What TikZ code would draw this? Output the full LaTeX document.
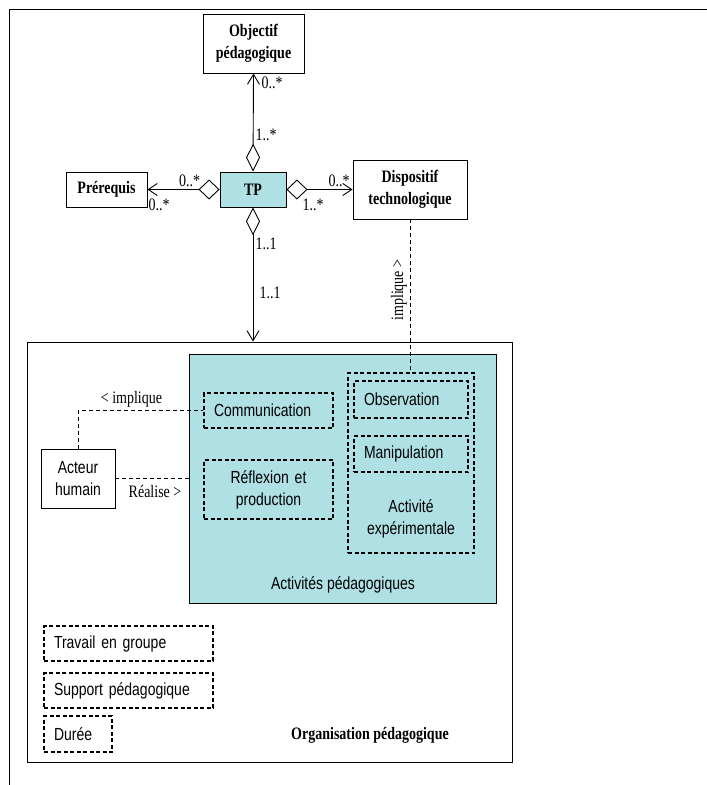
\documentclass[tikz,border=0pt]{standalone}
\usepackage{fontspec}
\setmainfont{Liberation Serif}[FakeStretch=0.8]
\setsansfont{Liberation Sans}[FakeStretch=0.8]
\definecolor{tpcyan}{RGB}{174,224,228}
\usetikzlibrary{arrows.meta}

\begin{document}
\begin{tikzpicture}[x=1pt, y=-1pt, line width=0.9pt,
  font=\fontsize{17.5}{22}\selectfont,
  classbox/.style={draw, inner sep=0pt, align=center, font=\bfseries\fontsize{17.5}{22}\selectfont},
  actbox/.style={draw, line width=1.3pt, dash pattern=on 4pt off 2.5pt, inner ysep=0pt, inner xsep=10pt, font=\sffamily\fontsize{17.5}{22}\selectfont},
  plainbox/.style={draw, inner sep=0pt, align=center, font=\sffamily\fontsize{17.5}{22}\selectfont},
  lbl/.style={inner sep=0pt},
  aggv/.style={arrows={{Diamond[open,length=28pt,width=14pt]}-{Straight Barb[length=10pt,width=12pt]}}},
  aggh/.style={arrows={{Diamond[open,length=21pt,width=20pt]}-{Straight Barb[length=9pt,width=12pt]}}},
  dashline/.style={line width=0.8pt, dash pattern=on 4pt off 3pt}]
  \useasboundingbox (0,0) rectangle (707,785);
  \draw (9,785) -- (9,9) -- (707,9);

  % classes
  \node[classbox, minimum width=101, minimum height=59] (objectif) at (253.5,43.5) {Objectif\\pédagogique};
  \node[classbox, minimum width=81, minimum height=35] (prereq) at (106.5,189.5) {Prérequis};
  \node[classbox, fill=tpcyan, minimum width=66, minimum height=35] (tp) at (253,189.5) {TP};
  \node[classbox, minimum width=114, minimum height=59] (disp) at (410,189.5) {Dispositif\\technologique};

  % organisation
  \node[draw, minimum width=485, minimum height=420] (org) at (269.5,552) {};
  \node[font=\bfseries\fontsize{17.5}{22}\selectfont] (orglbl) at (370,735) {Organisation pédagogique};
  \node[draw, fill=tpcyan, minimum width=307, minimum height=249] (activ) at (342.5,478.5) {};
  \node[font=\sffamily\fontsize{17.5}{22}\selectfont] (activlbl) at (343,585) {Activités pédagogiques};
  \node[actbox, minimum width=126, minimum height=180] (exp) at (411,463) {};
  \node[align=center, font=\sffamily\fontsize{17.5}{22}\selectfont] (explbl) at (411,519) {Activité\\expérimentale};
  \node[actbox, text width=94, align=left, minimum height=37] (obs) at (411,399.5) {Observation};
  \node[actbox, text width=94, align=left, minimum height=36] (manip) at (411,454) {Manipulation};
  \node[actbox, text width=109, align=left, minimum height=35] (comm) at (268.5,410.5) {Communication};
  \node[actbox, text width=109, align=center, minimum height=59] (reflex) at (268.5,489.5) {Réflexion et\\production};
  \node[plainbox, minimum width=74, minimum height=59] (acteur) at (78,478.5) {Acteur\\humain};
  \node[actbox, text width=149, align=left, minimum height=35] (travail) at (128.5,643.5) {Travail en groupe};
  \node[actbox, text width=149, align=left, minimum height=35] (support) at (128.5,690.5) {Support pédagogique};
  \node[actbox, text width=48, align=left, minimum height=36] (duree) at (78,734) {Durée};

  % associations
  \draw[aggv] (tp.north) -- (objectif.south);
  \draw[aggh] (tp.west) -- (prereq.east);
  \draw[aggh] (tp.east) -- (disp.west);
  \draw[aggv] (tp.south) -- (tp.south |- org.north);
  \node[lbl] (m1) at (272,83) {0..*};
  \node[lbl] (m2) at (266,135) {1..*};
  \node[lbl] (m3) at (189.5,181) {0..*};
  \node[lbl] (m4) at (159,205) {0..*};
  \node[lbl] (m5) at (339,181) {0..*};
  \node[lbl] (m6) at (313,205) {1..*};
  \node[lbl] (m7) at (266,244) {1..1};
  \node[lbl] (m8) at (270,293) {1..1};

  \draw[dashline] (acteur.north) |- (comm.west);
  \draw[dashline] (acteur.east) -- (acteur.east -| activ.west);
  \draw[dashline] (disp.south) -- (disp.south |- exp.north);
  \node[lbl] (impl1) at (131.5,399) {< implique};
  \node[lbl] (real) at (155,491) {Réalise >};
  \node[lbl, rotate=90] (impl2) at (399,290) {implique >};
\end{tikzpicture}
\end{document}
